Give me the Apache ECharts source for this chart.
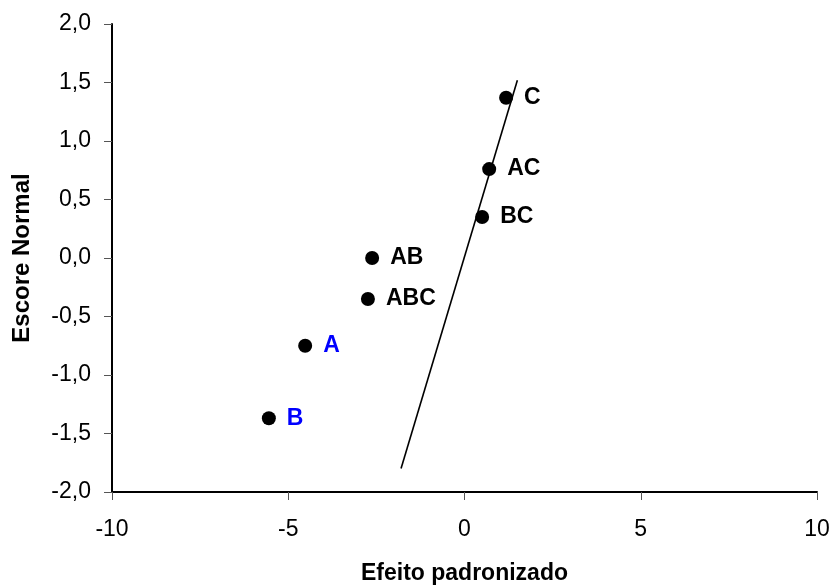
<!DOCTYPE html>
<html>
<head>
<meta charset="utf-8">
<script src="https://cdn.jsdelivr.net/npm/echarts@6/dist/echarts.min.js"></script>
<style>html,body{margin:0;padding:0;background:#fff}#c{width:834px;height:585px}</style>
</head>
<body>
<div id="c"></div>
<script>
const effectNames = ['C', 'AC', 'BC', 'AB', 'ABC', 'A', 'B'];
const effectValues = [1.18, 0.70, 0.50, -2.62, -2.74, -4.52, -5.55];
const normalScores = [1.37, 0.76, 0.35, 0.0, -0.35, -0.75, -1.37];
const significantEffects = ['A', 'B'];
const refLineX = [-1.8, 1.5];
const refLineY = [-1.8, 1.52];
const xTicks = [-10, -5, 0, 5, 10];
const yTicks = [-2.0, -1.5, -1.0, -0.5, 0.0, 0.5, 1.0, 1.5, 2.0];

const FONT = '"Liberation Sans", Arial, sans-serif';
const chart = echarts.init(document.getElementById('c'));

const points = effectNames.map((n, i) => ({
  value: [effectValues[i], normalScores[i]],
  name: n,
  label: { color: significantEffects.includes(n) ? '#0000FF' : '#000000' }
}));

chart.setOption({
  backgroundColor: '#ffffff',
  animation: false,
  grid: { left: 112, right: 17, top: 24, bottom: 93, containLabel: false, outerBoundsMode: 'none' },
  xAxis: {
    type: 'value', min: xTicks[0], max: xTicks[xTicks.length - 1], interval: 5,
    name: 'Efeito padronizado', nameLocation: 'middle', nameGap: 70,
    nameTextStyle: { fontFamily: FONT, fontSize: 23, fontWeight: 'bold', color: '#000' },
    axisLine: { onZero: false, lineStyle: { color: '#000', width: 2 } },
    axisTick: { show: true, inside: false, length: 8, lineStyle: { color: '#555', width: 1 } },
    axisLabel: { margin: 26, fontFamily: FONT, fontSize: 23, color: '#000' },
    splitLine: { show: false }
  },
  yAxis: {
    type: 'value', min: yTicks[0], max: yTicks[yTicks.length - 1], interval: 0.5,
    name: 'Escore Normal', nameLocation: 'middle', nameGap: 78, nameRotate: 90,
    nameTextStyle: { fontFamily: FONT, fontSize: 24, fontWeight: 'bold', color: '#000' },
    axisLine: { onZero: false, lineStyle: { color: '#000', width: 2 } },
    axisTick: { show: true, inside: false, length: 8, lineStyle: { color: '#555', width: 1 } },
    axisLabel: { margin: 21, fontFamily: FONT, fontSize: 23, color: '#000',
      formatter: v => v.toFixed(1).replace('.', ',') },
    splitLine: { show: false }
  },
  series: [
    {
      type: 'line',
      data: refLineX.map((x, i) => [x, refLineY[i]]),
      showSymbol: false,
      lineStyle: { color: '#000', width: 1.6 },
      silent: true
    },
    {
      type: 'scatter',
      data: points,
      symbol: 'circle',
      symbolSize: 14,
      itemStyle: { color: '#000', opacity: 1 },
      label: {
        show: true, position: 'right', distance: 11,
        formatter: p => p.name,
        fontFamily: FONT, fontSize: 23, fontWeight: 'bold', opacity: 1
      }
    }
  ]
});
</script>
</body>
</html>
